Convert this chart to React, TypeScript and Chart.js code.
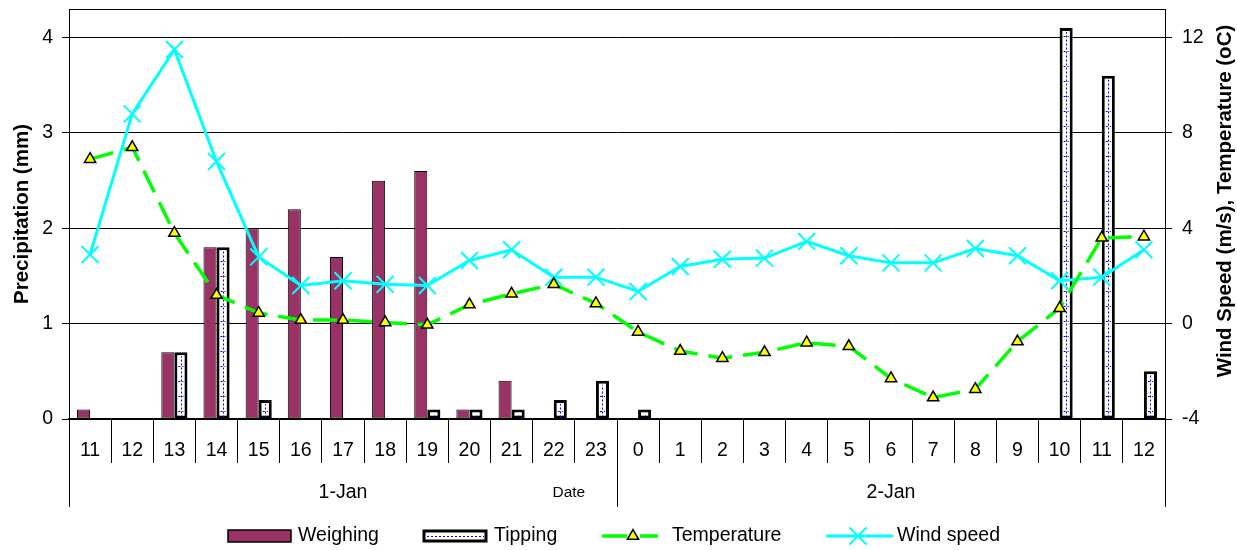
import React, { useEffect, useRef } from 'react';
import { Chart, registerables } from 'chart.js';

Chart.register(...registerables);

// Hourly readings, 11:00 on 1 Jan to 12:00 on 2 Jan
const HOURS = ['11', '12', '13', '14', '15', '16', '17', '18', '19', '20', '21', '22', '23',
  '0', '1', '2', '3', '4', '5', '6', '7', '8', '9', '10', '11', '12'];
const DAYS = ['1-Jan', '2-Jan'];
const DAY_SPANS = [13, 13];

// Precipitation (mm)
const WEIGHING = [0.1, 0, 0.7, 1.8, 2.0, 2.2, 1.7, 2.5, 2.6, 0.1, 0.4, 0, 0,
  0, 0, 0, 0, 0, 0, 0, 0, 0, 0, 0, 0, 0];
const TIPPING = [0, 0, 0.7, 1.8, 0.2, 0, 0, 0, 0.1, 0.1, 0.1, 0.2, 0.4,
  0.1, 0, 0, 0, 0, 0, 0, 0, 0, 0, 4.1, 3.6, 0.5];

// Temperature (oC) and wind speed (m/s)
const TEMPERATURE = [6.9, 7.4, 3.8, 1.2, 0.45, 0.15, 0.15, 0.05, -0.05, 0.8, 1.25, 1.65, 0.85,
  -0.35, -1.15, -1.45, -1.2, -0.8, -0.95, -2.3, -3.1, -2.75, -0.75, 0.65, 3.6, 3.65];
const WIND = [2.9, 8.8, 11.5, 6.8, 2.8, 1.6, 1.8, 1.65, 1.6, 2.65, 3.1, 1.95, 1.95,
  1.35, 2.4, 2.7, 2.75, 3.45, 2.85, 2.55, 2.55, 3.15, 2.85, 1.8, 1.95, 3.1];

const FONT = '"Liberation Sans", Arial, sans-serif';
const MAROON = '#993366';
const GREEN = '#00FF00';
const CYAN = '#00FFFF';
const YELLOW = '#FFFF00';
const BLUE = '#0000FF';

function drawTriangle(ctx: CanvasRenderingContext2D, x: number, y: number, r: number) {
  ctx.save();
  ctx.setLineDash([]);
  ctx.beginPath();
  for (let i = 0; i < 3; i++) {
    const a = (i * 2 * Math.PI) / 3;
    const px = x + Math.sin(a) * r;
    const py = y - Math.cos(a) * r;
    if (i === 0) ctx.moveTo(px, py); else ctx.lineTo(px, py);
  }
  ctx.closePath();
  ctx.fillStyle = YELLOW;
  ctx.fill();
  ctx.strokeStyle = '#000';
  ctx.lineWidth = 1.5;
  ctx.stroke();
  ctx.restore();
}

// keep the plot area edges where the layout puts them
const noEdgePadding = (s: any) => {
  s.paddingTop = 0;
  s.paddingBottom = 0;
  s.paddingLeft = 0;
  s.paddingRight = 0;
};

const decorations = {
  id: 'decorations',
  afterDatasetDraw(chart: any, args: any) {
    // dotted blue fill inside the tipping-bucket bars
    if (chart.data.datasets[args.index].label !== 'Tipping') return;
    const ctx: CanvasRenderingContext2D = chart.ctx;
    ctx.save();
    ctx.strokeStyle = BLUE;
    ctx.lineWidth = 1;
    ctx.setLineDash([2, 2]);
    args.meta.data.forEach((el: any) => {
      const { x, y, base, width } = el.getProps(['x', 'y', 'base', 'width'], true);
      const h = base - y;
      if (h < 6) return;
      const inset = 3;
      const left = x - width / 2 + inset;
      const right = x + width / 2 - inset;
      const cx = Math.round(x) + 0.5;
      ctx.beginPath();
      ctx.moveTo(cx, base - 1);
      ctx.lineTo(cx, y + inset + 1);
      ctx.stroke();
      for (let yy = base - 8; yy > y + inset + 3; yy -= 15) {
        const py = Math.round(yy) + 0.5;
        ctx.beginPath();
        ctx.moveTo(left + 1, py);
        ctx.lineTo(right - 1, py);
        ctx.stroke();
      }
    });
    ctx.restore();
  },
  afterDraw(chart: any) {
    const ctx: CanvasRenderingContext2D = chart.ctx;
    const { left, right, top, bottom } = chart.chartArea;
    const xs = chart.scales.x;
    const groupBottom = 507;

    ctx.save();
    ctx.strokeStyle = '#000';
    ctx.lineWidth = 1;
    ctx.setLineDash([]);

    // plot frame top edge
    ctx.beginPath();
    ctx.moveTo(left, Math.round(top) + 0.5);
    ctx.lineTo(right, Math.round(top) + 0.5);
    ctx.stroke();

    // day group separators
    const bounds: number[] = [left];
    let idx = 0;
    DAY_SPANS.forEach((n, i) => {
      idx += n;
      if (i < DAY_SPANS.length - 1) {
        bounds.push((xs.getPixelForValue(idx - 1) + xs.getPixelForValue(idx)) / 2);
      }
    });
    bounds.push(right);
    bounds.forEach((bx) => {
      const px = Math.round(bx) + 0.5;
      ctx.beginPath();
      ctx.moveTo(px, bottom);
      ctx.lineTo(px, groupBottom);
      ctx.stroke();
    });

    // day labels
    ctx.fillStyle = '#000';
    ctx.textBaseline = 'middle';
    ctx.textAlign = 'center';
    ctx.font = `19.5px ${FONT}`;
    let start = 0;
    DAYS.forEach((d, i) => {
      const end = start + DAY_SPANS[i] - 1;
      const cx = (xs.getPixelForValue(start) + xs.getPixelForValue(end)) / 2;
      ctx.fillText(d, cx, 493);
      start = end + 1;
    });
    // axis caption
    ctx.font = `15.5px ${FONT}`;
    ctx.fillText('Date', (xs.getPixelForValue(11) + xs.getPixelForValue(12)) / 2 - 6, 493);

    // axis titles
    ctx.font = `bold 20.5px ${FONT}`;
    ctx.save();
    ctx.translate(22, (top + bottom) / 2);
    ctx.rotate(-Math.PI / 2);
    ctx.fillText('Precipitation (mm)', 0, 0);
    ctx.restore();
    ctx.save();
    ctx.translate(1225, 201);
    ctx.rotate(-Math.PI / 2);
    ctx.fillText('Wind Speed (m/s), Temperature (oC)', 0, 0);
    ctx.restore();

    // legend
    const ly = 536;
    ctx.font = `19.5px ${FONT}`;
    ctx.textAlign = 'left';

    ctx.fillStyle = MAROON;
    ctx.fillRect(228, 530, 63, 12);
    ctx.strokeStyle = '#000';
    ctx.lineWidth = 1.5;
    ctx.strokeRect(228, 530, 63, 12);
    ctx.fillStyle = '#000';
    ctx.fillText('Weighing', 298, ly);

    ctx.fillStyle = '#fff';
    ctx.fillRect(424, 531, 62, 10);
    ctx.strokeStyle = '#000';
    ctx.lineWidth = 3;
    ctx.strokeRect(424, 531, 62, 10);
    ctx.strokeStyle = BLUE;
    ctx.lineWidth = 1;
    ctx.setLineDash([2, 2]);
    ctx.beginPath();
    ctx.moveTo(427, ly + 0.5);
    ctx.lineTo(484, ly + 0.5);
    ctx.stroke();
    ctx.setLineDash([]);
    ctx.fillStyle = '#000';
    ctx.fillText('Tipping', 494, ly);

    ctx.strokeStyle = GREEN;
    ctx.lineWidth = 3.5;
    ctx.beginPath();
    ctx.moveTo(602, ly);
    ctx.lineTo(627, ly);
    ctx.moveTo(640, ly);
    ctx.lineTo(658, ly);
    ctx.stroke();
    drawTriangle(ctx, 633, ly, 6.5);
    ctx.fillStyle = '#000';
    ctx.fillText('Temperature', 672, ly);

    ctx.strokeStyle = CYAN;
    ctx.lineWidth = 3;
    ctx.beginPath();
    ctx.moveTo(826, ly);
    ctx.lineTo(893, ly);
    ctx.stroke();
    ctx.lineWidth = 2;
    ctx.beginPath();
    ctx.moveTo(858 - 8.5, ly - 8.5);
    ctx.lineTo(858 + 8.5, ly + 8.5);
    ctx.moveTo(858 - 8.5, ly + 8.5);
    ctx.lineTo(858 + 8.5, ly - 8.5);
    ctx.stroke();
    ctx.fillStyle = '#000';
    ctx.fillText('Wind speed', 897, ly);

    ctx.restore();
  },
};

export default function App() {
  const ref = useRef<HTMLCanvasElement>(null);

  useEffect(() => {
    const canvas = ref.current;
    if (!canvas) return;
    const tickFont = { family: FONT, size: 19.5 };
    const chart = new Chart(canvas, {
      type: 'bar',
      data: {
        labels: HOURS,
        datasets: [
          {
            type: 'line',
            label: 'Temperature',
            data: TEMPERATURE,
            yAxisID: 'y1',
            order: 0,
            borderColor: GREEN,
            borderWidth: 3.5,
            borderDash: [24, 11],
            pointStyle: 'triangle',
            pointRadius: 6.5,
            pointBackgroundColor: YELLOW,
            pointBorderColor: '#000',
            pointBorderWidth: 1.5,
            tension: 0,
            fill: false,
          },
          {
            type: 'line',
            label: 'Wind speed',
            data: WIND,
            yAxisID: 'y1',
            order: 1,
            borderColor: CYAN,
            borderWidth: 3,
            pointStyle: 'crossRot',
            pointRadius: 12,
            pointBorderColor: CYAN,
            pointBackgroundColor: CYAN,
            pointBorderWidth: 2,
            tension: 0,
            fill: false,
          },
          {
            type: 'bar',
            label: 'Weighing',
            data: WEIGHING,
            yAxisID: 'y',
            order: 2,
            backgroundColor: MAROON,
            borderColor: '#000',
            borderWidth: 1,
            borderSkipped: false,
            categoryPercentage: 0.62,
            barPercentage: 1,
          },
          {
            type: 'bar',
            label: 'Tipping',
            data: TIPPING,
            yAxisID: 'y',
            order: 3,
            backgroundColor: '#fff',
            borderColor: '#000',
            borderWidth: 3,
            borderSkipped: false,
            categoryPercentage: 0.62,
            barPercentage: 1,
          },
        ],
      } as any,
      options: {
        responsive: false,
        devicePixelRatio: 1,
        animation: false,
        events: [],
        layout: { autoPadding: false, padding: { top: 9, left: 0, right: 0, bottom: 0 } },
        plugins: {
          legend: { display: false },
          tooltip: { enabled: false },
        },
        scales: {
          x: {
            type: 'category',
            offset: true,
            grid: {
              offset: true,
              drawOnChartArea: false,
              drawTicks: true,
              tickLength: 44,
              color: '#000',
              lineWidth: 1,
            },
            border: { display: true, color: '#000', width: 2 },
            ticks: {
              autoSkip: false,
              maxRotation: 0,
              minRotation: 0,
              padding: -24,
              color: '#000',
              font: tickFont,
            },
            afterFit: (s: any) => { s.height = 131; noEdgePadding(s); },
          },
          y: {
            type: 'linear',
            position: 'left',
            min: 0,
            max: 4.3,
            ticks: {
              stepSize: 1,
              includeBounds: false,
              color: '#000',
              font: tickFont,
              padding: 9,
            },
            grid: { color: '#000', lineWidth: 1, drawTicks: true, tickLength: 7 },
            border: { display: true, color: '#000', width: 1 },
            afterFit: (s: any) => { s.width = 69; noEdgePadding(s); },
          },
          y1: {
            type: 'linear',
            position: 'right',
            min: -4,
            max: 13.2,
            ticks: {
              stepSize: 4,
              includeBounds: false,
              color: '#000',
              font: tickFont,
              padding: 10,
            },
            grid: { drawOnChartArea: false, color: '#000', lineWidth: 1, drawTicks: true, tickLength: 7 },
            border: { display: true, color: '#000', width: 1 },
            afterFit: (s: any) => { s.width = 72; noEdgePadding(s); },
          },
        },
      } as any,
      plugins: [decorations],
    });
    return () => chart.destroy();
  }, []);

  return (
    <div style={{ position: 'absolute', left: 0, top: 0, width: 1237, height: 550, background: '#fff' }}>
      <canvas ref={ref} width={1237} height={550} style={{ display: 'block', width: 1237, height: 550 }} />
    </div>
  );
}
